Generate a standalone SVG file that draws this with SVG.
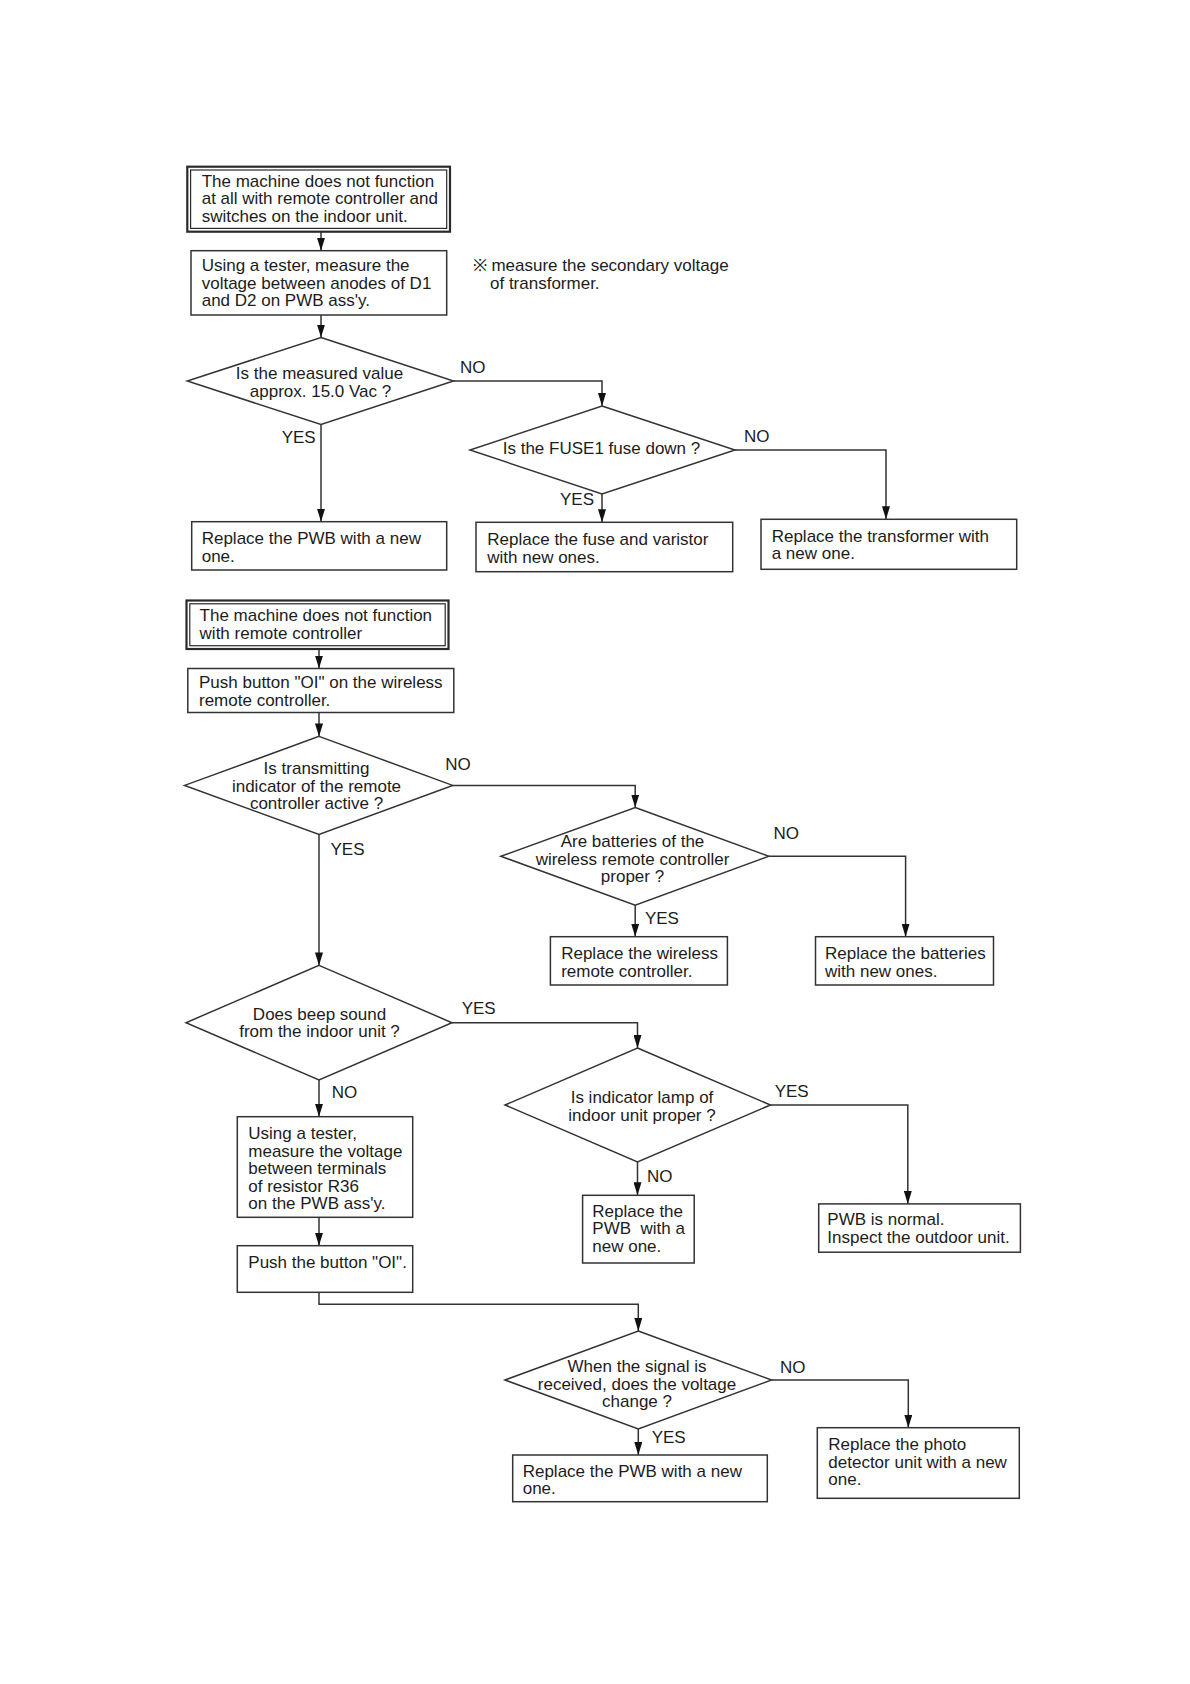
<svg xmlns="http://www.w3.org/2000/svg" width="1190" height="1684" viewBox="0 0 1190 1684">
<style>
  text { font-family: "Liberation Sans", Arial, sans-serif; font-size: 17px; fill: #1c1c1c; }
  .c { text-anchor: middle; }
  .box { fill: #ffffff; stroke: #333333; stroke-width: 1.5; }
  .outer { fill: #ffffff; stroke: #2a2a2a; stroke-width: 2.2; }
  .inner { fill: none; stroke: #2a2a2a; stroke-width: 1.2; }
  .dia { fill: #ffffff; stroke: #333333; stroke-width: 1.5; }
  .wire { fill: none; stroke: #333333; stroke-width: 1.5; }
  .arr { fill: none; stroke: #333333; stroke-width: 1.5; marker-end: url(#ah); }
</style>
<defs>
  <marker id="ah" viewBox="0 0 13 8" refX="13" refY="4" markerWidth="13" markerHeight="8" markerUnits="userSpaceOnUse" orient="auto">
    <path d="M0,0 L13,4 L0,8 z" fill="#111111"/>
  </marker>
</defs>
<rect x="0" y="0" width="1190" height="1684" fill="#ffffff"/>

<g id="connectors">
  <path class="arr" d="M321,232 L321,250.7"/>
  <path class="arr" d="M321,315 L321,337.5"/>
  <path class="arr" d="M321,424.5 L321,521.7"/>
  <path class="arr" d="M453.5,381 L602,381 L602,406"/>
  <path class="arr" d="M602,494 L602,522.3"/>
  <path class="arr" d="M735,450 L886,450 L886,519.3"/>

  <path class="arr" d="M319,649 L319,668.5"/>
  <path class="arr" d="M319,712.5 L319,736.4"/>
  <path class="arr" d="M452.7,785.4 L635.2,785.4 L635.2,807.5"/>
  <path class="arr" d="M319,834.4 L319,965.4"/>
  <path class="arr" d="M635.2,905.1 L635.2,936.7"/>
  <path class="arr" d="M768.8,856.3 L905.6,856.3 L905.6,936.7"/>
  <path class="arr" d="M452,1022.7 L637.5,1022.7 L637.5,1048"/>
  <path class="arr" d="M319,1080 L319,1116.7"/>
  <path class="arr" d="M637.5,1162 L637.5,1195.3"/>
  <path class="arr" d="M770.5,1105 L907.8,1105 L907.8,1203.9"/>
  <path class="arr" d="M319,1217.3 L319,1245.7"/>
  <path class="arr" d="M319,1292.3 L319,1304.3 L638.3,1304.3 L638.3,1331"/>
  <path class="arr" d="M638.3,1429 L638.3,1455"/>
  <path class="arr" d="M771.6,1380 L908.3,1380 L908.3,1427.7"/>
</g>

<g id="labels">
  <text x="460" y="372.7">NO</text>
  <text x="281.7" y="443.3">YES</text>
  <text x="744" y="441.7">NO</text>
  <text x="560" y="505">YES</text>
  <text x="445.3" y="770.4">NO</text>
  <text x="330.5" y="855.2">YES</text>
  <text x="773.6" y="839.1">NO</text>
  <text x="644.9" y="923.9">YES</text>
  <text x="461.7" y="1014">YES</text>
  <text x="331.7" y="1098.3">NO</text>
  <text x="774.7" y="1096.6">YES</text>
  <text x="647" y="1182.4">NO</text>
  <text x="780" y="1373.3">NO</text>
  <text x="651.7" y="1443.3">YES</text>
</g>

<g id="n-start1">
  <rect class="outer" x="187.3" y="166.7" width="262.7" height="65"/>
  <rect class="inner" x="190.6" y="170" width="256.1" height="58.4"/>
  <text x="201.7" y="186.7">The machine does not function</text>
  <text x="201.7" y="204.2">at all with remote controller and</text>
  <text x="201.7" y="221.7">switches on the indoor unit.</text>
</g>

<g id="n-measure1">
  <rect class="box" x="191" y="250.7" width="255.7" height="64.3"/>
  <text x="201.7" y="271">Using a tester, measure the</text>
  <text x="201.7" y="288.5">voltage between anodes of D1</text>
  <text x="201.7" y="306">and D2 on PWB ass'y.</text>
</g>

<g id="n-note">
  <text x="472.7" y="271">※ measure the secondary voltage</text>
  <text x="490" y="288.5">of transformer.</text>
</g>

<g id="n-d-measured">
  <polygon class="dia" points="321,337.5 453.5,381 321,424.5 187.3,381"/>
  <text class="c" x="319.5" y="379.3">Is the measured value</text>
  <text class="c" x="320.5" y="396.7">approx. 15.0 Vac ?</text>
</g>

<g id="n-pwb1">
  <rect class="box" x="191.7" y="521.7" width="255" height="48.3"/>
  <text x="201.7" y="544">Replace the PWB with a new</text>
  <text x="201.7" y="561.5">one.</text>
</g>

<g id="n-d-fuse">
  <polygon class="dia" points="602,406 735,450 602,494 470,450"/>
  <text class="c" x="601.5" y="454.3">Is the FUSE1 fuse down ?</text>
</g>

<g id="n-fuse">
  <rect class="box" x="476" y="522.3" width="256.7" height="49.4"/>
  <text x="487.3" y="545">Replace the fuse and varistor</text>
  <text x="487.3" y="562.5">with new ones.</text>
</g>

<g id="n-trans">
  <rect class="box" x="761" y="519.3" width="255.7" height="50"/>
  <text x="771.7" y="541.7">Replace the transformer with</text>
  <text x="771.7" y="559.2">a new one.</text>
</g>

<g id="n-start2">
  <rect class="outer" x="186.5" y="600.5" width="262" height="48.5"/>
  <rect class="inner" x="189.8" y="603.8" width="255.4" height="41.9"/>
  <text x="199.6" y="621">The machine does not function</text>
  <text x="199.6" y="638.5">with remote controller</text>
</g>

<g id="n-push1">
  <rect class="box" x="187.8" y="668.5" width="266" height="44"/>
  <text x="199" y="688">Push button "OI" on the wireless</text>
  <text x="199" y="705.5">remote controller.</text>
</g>

<g id="n-d-transmit">
  <polygon class="dia" points="319,736.4 452.7,785.4 319,834.4 184.6,785.4"/>
  <text class="c" x="316.5" y="774">Is transmitting</text>
  <text class="c" x="316.5" y="791.5">indicator of the remote</text>
  <text class="c" x="316.5" y="809">controller active ?</text>
</g>

<g id="n-d-batt">
  <polygon class="dia" points="635.2,807.5 768.8,856.3 635.2,905.1 500.8,856.3"/>
  <text class="c" x="632.5" y="847">Are batteries of the</text>
  <text class="c" x="632.5" y="864.5">wireless remote controller</text>
  <text class="c" x="632.5" y="882">proper ?</text>
</g>

<g id="n-wireless">
  <rect class="box" x="550.4" y="936.7" width="177" height="48.3"/>
  <text x="561.2" y="959.3">Replace the wireless</text>
  <text x="561.2" y="976.8">remote controller.</text>
</g>

<g id="n-batteries">
  <rect class="box" x="815.5" y="936.7" width="178" height="48.3"/>
  <text x="825" y="959.3">Replace the batteries</text>
  <text x="825" y="976.8">with new ones.</text>
</g>

<g id="n-d-beep">
  <polygon class="dia" points="319,965.4 452,1022.7 319,1080 186,1022.7"/>
  <text class="c" x="319.5" y="1020">Does beep sound</text>
  <text class="c" x="319.5" y="1037.3">from the indoor unit ?</text>
</g>

<g id="n-r36">
  <rect class="box" x="237.3" y="1116.7" width="175.4" height="100.6"/>
  <text x="248.3" y="1139.3">Using a tester,</text>
  <text x="248.3" y="1156.8">measure the voltage</text>
  <text x="248.3" y="1174.3">between terminals</text>
  <text x="248.3" y="1191.8">of resistor R36</text>
  <text x="248.3" y="1209.3">on the PWB ass'y.</text>
</g>

<g id="n-push2">
  <rect class="box" x="237.3" y="1245.7" width="175.4" height="46.6"/>
  <text x="248.3" y="1267.7">Push the button "OI".</text>
</g>

<g id="n-d-indicator">
  <polygon class="dia" points="637.5,1048 770.5,1105 637.5,1162 505,1105"/>
  <text class="c" x="642" y="1103">Is indicator lamp of</text>
  <text class="c" x="642" y="1120.5">indoor unit proper ?</text>
</g>

<g id="n-pwb-mid">
  <rect class="box" x="582.6" y="1195.3" width="111.6" height="67.7"/>
  <text x="592.3" y="1216.8">Replace the</text>
  <text x="592.3" y="1234.3" xml:space="preserve">PWB  with a</text>
  <text x="592.3" y="1251.8">new one.</text>
</g>

<g id="n-normal">
  <rect class="box" x="818.7" y="1203.9" width="201.7" height="48.3"/>
  <text x="827.3" y="1225.4">PWB is normal.</text>
  <text x="827.3" y="1242.9">Inspect the outdoor unit.</text>
</g>

<g id="n-d-signal">
  <polygon class="dia" points="638.3,1331 771.6,1380 638.3,1429 505,1380"/>
  <text class="c" x="637" y="1372.3">When the signal is</text>
  <text class="c" x="637" y="1389.8">received, does the voltage</text>
  <text class="c" x="637" y="1407.3">change ?</text>
</g>

<g id="n-pwb-bot">
  <rect class="box" x="512.7" y="1455" width="254.6" height="46.7"/>
  <text x="522.7" y="1476.7">Replace the PWB with a new</text>
  <text x="522.7" y="1494.2">one.</text>
</g>

<g id="n-photo">
  <rect class="box" x="817.3" y="1427.7" width="202" height="70.6"/>
  <text x="828.3" y="1450">Replace the photo</text>
  <text x="828.3" y="1467.5">detector unit with a new</text>
  <text x="828.3" y="1485">one.</text>
</g>
</svg>
